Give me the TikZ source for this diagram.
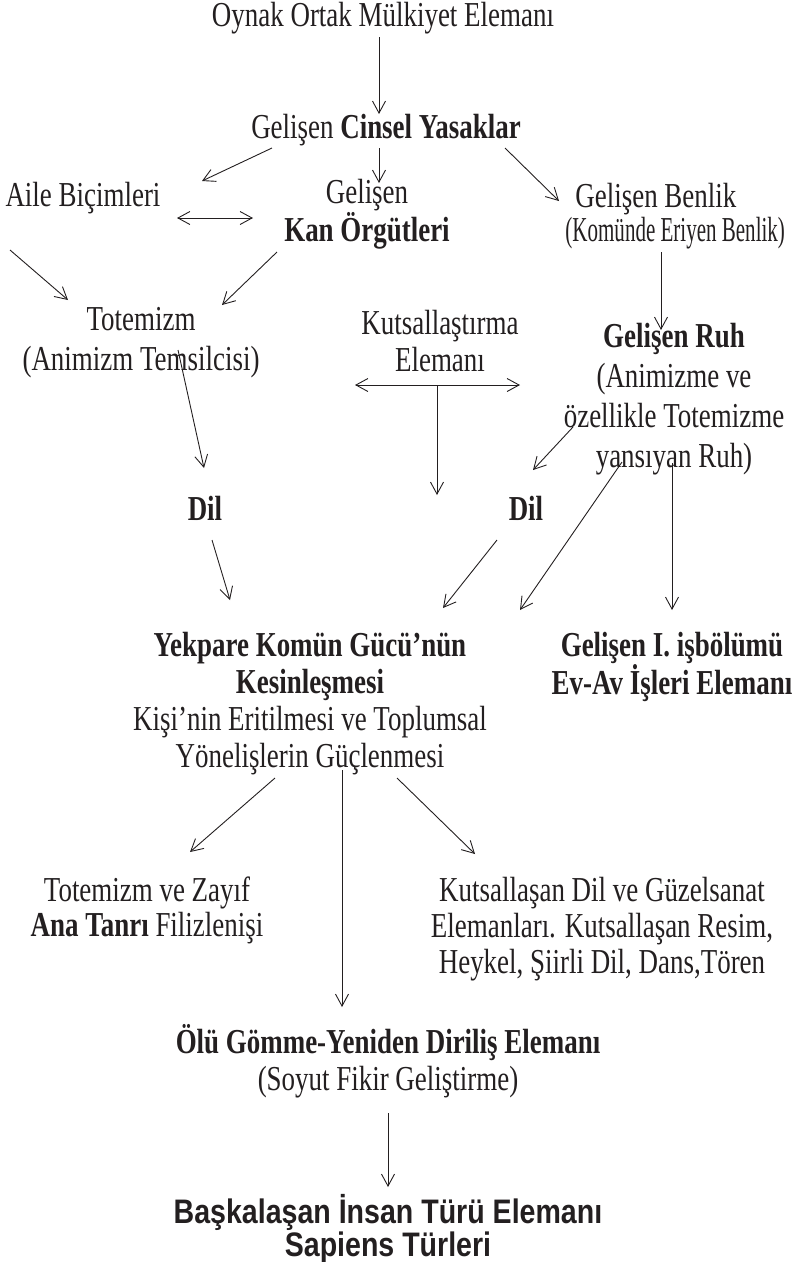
\documentclass[tikz,border=0pt]{standalone}
\usepackage{fontspec}
\setmainfont{Liberation Serif}[FakeStretch=0.77]
\newfontfamily\sapfont{Liberation Sans}[FakeStretch=0.84]
\usepackage{tikz}
\usepackage{xcolor}
\usetikzlibrary{arrows.meta}
\definecolor{ink}{HTML}{231F20}

\begin{document}
\begin{tikzpicture}[->, >={Straight Barb[length=12pt,width=13pt]}, x=1pt, y=-1pt,
                line width=0.9pt, draw=ink, text=ink,
                main node/.style={align=center, inner sep=0pt,
                  font=\fontsize{35}{37}\selectfont},
                wide node/.style={main node, font=\fontsize{35}{40}\selectfont}]
  \useasboundingbox (0,0) rectangle (796,1262);

  \node[main node] (oynak) at (383,18) {Oynak Ortak Mülkiyet Elemanı};
  \node[main node] (cinsel) at (386,130) {Gelişen \textbf{Cinsel Yasaklar}};
  \node[main node] (aile) at (83,198) {Aile Biçimleri};
  \node[main node, font=\fontsize{35}{34}\selectfont] (kan) at (367,214) {Gelişen\\\textbf{Kan Örgütleri}};
  \node[main node, align=left, anchor=west, font=\fontsize{35}{34}\selectfont] (benlik) at (565,216)
    {\hspace*{10pt}Gelişen Benlik\\\scalebox{0.78}[1]{(Komünde Eriyen Benlik)}};
  \node[wide node] (totem) at (141,343) {Totemizm\\(Animizm Temsilcisi)};
  \node[main node] (kutsal) at (440,341) {Kutsallaştırma\\Elemanı};
  \node[wide node] (ruh) at (674,399)
    {\textbf{Gelişen Ruh}\\(Animizme ve\\özellikle Totemizme\\yansıyan Ruh)};
  \node[main node] (dilA) at (205,508) {\textbf{Dil}};
  \node[main node] (dilB) at (526,508) {\textbf{Dil}};
  \node[main node] (yekpare) at (310,704)
    {\textbf{Yekpare Komün Gücü’nün}\\\textbf{Kesinleşmesi}\\Kişi’nin Eritilmesi ve Toplumsal\\Yönelişlerin Güçlenmesi};
  \node[main node] (isbolum) at (672,667)
    {\textbf{Gelişen I. işbölümü}\\\textbf{Ev-Av İşleri Elemanı}};
  \node[main node, font=\fontsize{35}{35}\selectfont] (anatanri) at (147,910) {Totemizm ve Zayıf\\\textbf{Ana Tanrı} Filizlenişi};
  \node[main node, font=\fontsize{35}{36}\selectfont] (sanat) at (602,929)
    {Kutsallaşan Dil ve Güzelsanat\\Elemanları. Kutsallaşan Resim,\\Heykel, Şiirli Dil, Dans,Tören};
  \node[main node] (olu) at (388,1061)
    {\textbf{Ölü Gömme-Yeniden Diriliş Elemanı}\\(Soyut Fikir Geliştirme)};
  \node[main node, font=\sapfont\bfseries\fontsize{34}{31}\selectfont] (sapiens) at (388,1229)
    {Başkalaşan İnsan Türü Elemanı\\Sapiens Türleri};

  \coordinate (kutsalend) at ([shift={(-3,154)}]kutsal.center);

  \path
    ([shift={(-4,19)}]oynak.center) edge ([shift={(-7,-16)}]cinsel.center)
    ([shift={(-114,18)}]cinsel.center) edge ([shift={(119,-17)}]aile.center)
    ([shift={(-7,18)}]cinsel.center) edge ([shift={(12,-31)}]kan.center)
    ([shift={(119,18)}]cinsel.center) edge ([shift={(-6,-15)}]benlik.west)
    ([shift={(94,20)}]aile.center) edge[<->] ([shift={(-114,4)}]kan.center)
    ([shift={(-73,52)}]aile.center) edge ([shift={(-73,-43)}]totem.center)
    ([shift={(-90,38)}]kan.center) edge ([shift={(81,-38)}]totem.center)
    ([shift={(96,36)}]benlik.west) edge ([shift={(-13,-69)}]ruh.center)
    ([shift={(-85,44)}]kutsal.center) edge[<->] ([shift={(80,44)}]kutsal.center)
    ([shift={(-3,44)}]kutsal.center) edge (kutsalend)
    ([shift={(37,7)}]totem.center) edge ([shift={(-1,-40)}]dilA.center)
    ([shift={(-101,28)}]ruh.center) edge ([shift={(7,-38)}]dilB.center)
    ([shift={(7,32)}]dilA.center) edge ([shift={(-80,-104)}]yekpare.center)
    ([shift={(-29,32)}]dilB.center) edge ([shift={(133,-96)}]yekpare.center)
    ([shift={(-52,63)}]ruh.center) edge ([shift={(210,-94)}]yekpare.center)
    ([shift={(-2,64)}]ruh.center) edge ([shift={(0,-57)}]isbolum.center)
    ([shift={(-35,74)}]yekpare.center) edge ([shift={(43,-58)}]anatanri.center)
    ([shift={(87,74)}]yekpare.center) edge ([shift={(-127,-75)}]sanat.center)
    ([shift={(32,66)}]yekpare.center) edge ([shift={(-46,-54)}]olu.center)
    ([shift={(0,52)}]olu.center) edge ([shift={(0,-42)}]sapiens.center);
\end{tikzpicture}
\end{document}
